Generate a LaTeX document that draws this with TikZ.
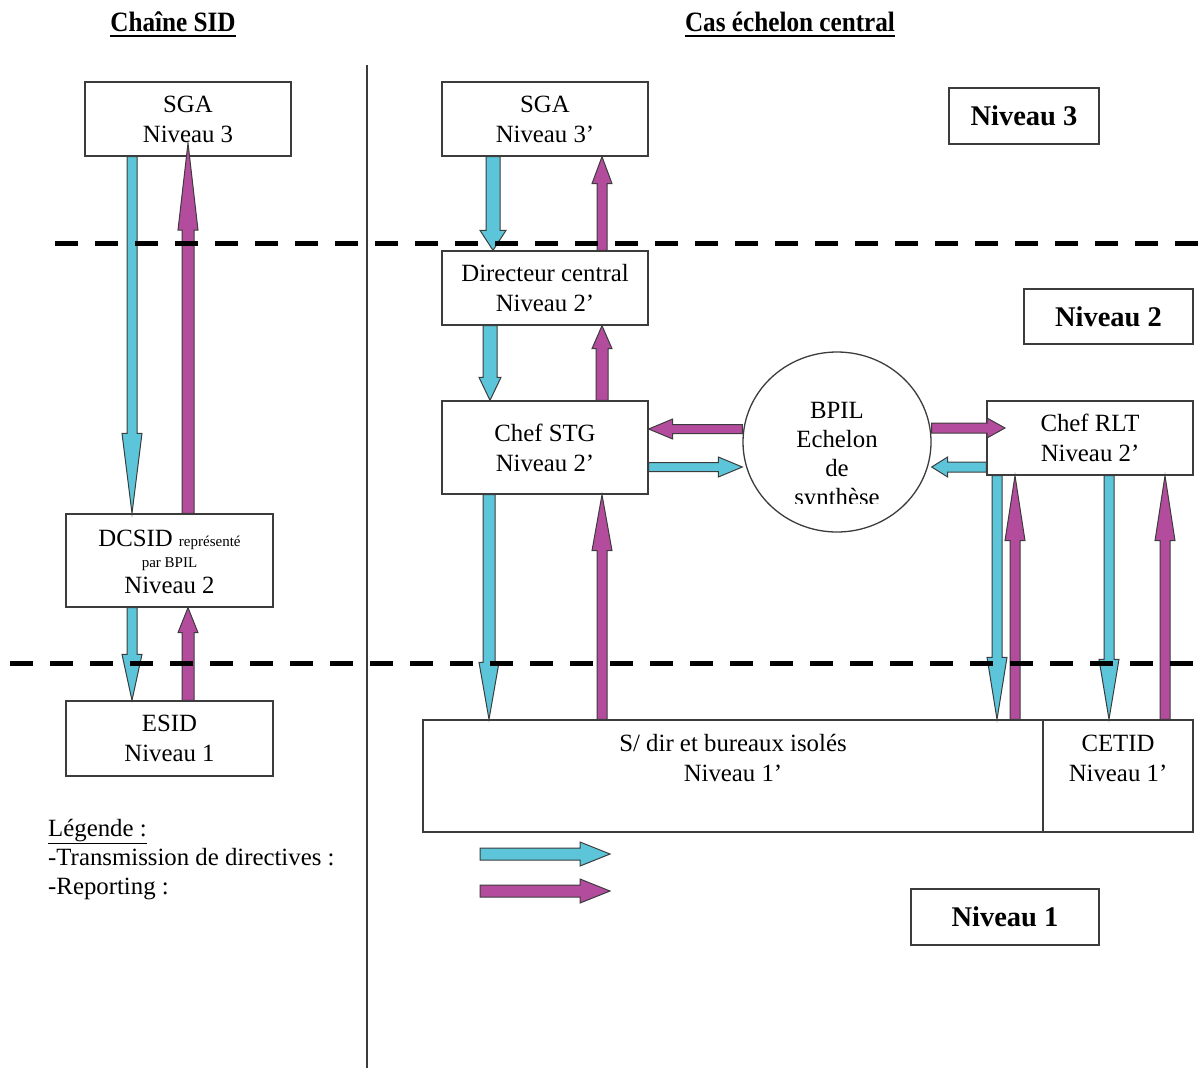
\documentclass[tikz,border=0pt]{standalone}
\usepackage{fontspec}
\setmainfont{Liberation Serif}
\usetikzlibrary{calc,shapes.geometric}
\definecolor{dirblue}{RGB}{93,197,217}
\definecolor{repmag}{RGB}{180,76,158}
\definecolor{edgegray}{RGB}{60,60,60}
% #1 colour, #2 start, #3 tip, #4 shaft half width, #5 head length, #6 head half width
\newcommand\blockarrow[6]{%
  \coordinate (baS) at #2;
  \coordinate (baE) at #3;
  \coordinate (baH) at ($(baE)!#5!(baS)$);
  \draw[arrowline, fill=#1] ($(baS)!#4!90:(baE)$) -- ($(baH)!#4!90:(baE)$)
    -- ($(baH)!#6!90:(baE)$) -- (baE) -- ($(baH)!#6!-90:(baE)$)
    -- ($(baH)!#4!-90:(baE)$) -- ($(baS)!#4!-90:(baE)$) -- cycle;
}
\begin{document}
\begin{tikzpicture}[x=1pt,y=-1pt,
  arrowline/.style={draw=edgegray, line width=1pt, line join=miter},
  box/.style={draw=edgegray, line width=1.3pt, fill=white, inner sep=0pt, align=center,
    font=\fontsize{24.8}{30}\selectfont},
  lvlbox/.style={draw=edgegray, line width=1.3pt, fill=white, inner sep=0pt,
    font=\fontsize{28.5}{32}\selectfont\bfseries},
  txt/.style={inner sep=0pt, font=\fontsize{24.8}{30}\selectfont},
  smalltxt/.style={inner sep=0pt, font=\fontsize{15}{18}\selectfont},
  title/.style={inner sep=0pt, font=\fontsize{28}{32}\selectfont\bfseries},
  titleline/.style={line width=2.5pt},
  levelsep/.style={line width=5pt, dash pattern=on 23pt off 17pt},
  divider/.style={draw=edgegray, line width=1.5pt}
]
\useasboundingbox (0,0) rectangle (1204,1068);

% titles
\node[title, anchor=base] (titleL) at (173,31) {\scalebox{0.9}[1]{Chaîne SID}};
\node[title, anchor=base] (titleR) at (790,31) {\scalebox{0.9}[1]{Cas échelon central}};
\draw[titleline] ($(titleL.base west)+(0,5)$) -- ($(titleL.base east)+(0,5)$);
\draw[titleline] ($(titleR.base west)+(0,5)$) -- ($(titleR.base east)+(0,5)$);

% divider
\coordinate (divtop) at (367,65);
\coordinate (divbot) at (367,1068);
\draw[divider] (divtop) -- (divbot);

% left chain
\node[box, minimum width=206pt, minimum height=74pt] (sgaL) at (188,119) {SGA\\Niveau 3};
\node[box, minimum width=207pt, minimum height=93pt] (dcsid) at (169.5,560.5) {};
\node[txt, anchor=base] (dcsidA) at (169.5,546) {DCSID {\fontsize{15}{18}\selectfont représenté}};
\node[smalltxt, anchor=base] (dcsidB) at (169.5,567) {par BPIL};
\node[txt, anchor=base] (dcsidC) at (169.5,593) {Niveau 2};
\node[box, minimum width=207pt, minimum height=75pt] (esid) at (169.5,738.5) {ESID\\Niveau 1};

% right side
\node[box, minimum width=206pt, minimum height=74pt] (sgaR) at (545,119) {SGA\\Niveau 3’};
\node[box, minimum width=206pt, minimum height=74pt] (dir) at (545,288) {Directeur central\\Niveau 2’};
\node[box, minimum width=206pt, minimum height=93pt] (stg) at (545,447.5) {Chef STG\\Niveau 2’};
\node[box, minimum width=206pt, minimum height=74pt] (rlt) at (1090,438) {Chef RLT\\Niveau 2’};
\node[draw=edgegray, line width=1.3pt, fill=white, ellipse, inner sep=0pt,
  minimum width=188pt, minimum height=180pt] (bpil) at (837,442) {};
\node[txt, anchor=base] (bpilA) at (837,418) {BPIL};
\node[txt, anchor=base] (bpilB) at (837,447) {Echelon};
\node[txt, anchor=base] (bpilC) at (837,476) {de};
\begin{scope}
  \clip (740,480) rectangle (935,503);
  \node[txt, anchor=base] (bpilD) at (837,505) {synthèse};
\end{scope}
\node[box, minimum width=620pt, minimum height=112pt] (sdir) at (733,776) {};
\node[txt, align=center] (sdirtxt) at (733,758) {S/ dir et bureaux isolés\\Niveau 1’};
\node[box, minimum width=150pt, minimum height=112pt] (cetid) at (1118,776) {};
\node[txt, align=center] (cetidtxt) at (1118,758) {CETID\\Niveau 1’};

% level boxes
\node[lvlbox, minimum width=150pt, minimum height=56pt] (lvl3) at (1024,116) {Niveau 3};
\node[lvlbox, minimum width=169pt, minimum height=55pt] (lvl2) at (1108.5,316.5) {Niveau 2};
\node[lvlbox, minimum width=188pt, minimum height=56pt] (lvl1) at (1005,917) {Niveau 1};

% legend
\node[txt, anchor=base west] (legA) at (48,836) {\underline{Légende :}};
\node[txt, anchor=base west] (legB) at (48,865) {-Transmission de directives :};
\node[txt, anchor=base west] (legC) at (48,894) {-Reporting :};

% left arrows
\coordinate (magtipL) at (188,143);
\blockarrow{dirblue}{(132,0 |- sgaL.south)}{(132,0 |- dcsid.north)}{5pt}{80pt}{10pt}
\blockarrow{repmag}{(188,0 |- dcsid.north)}{(magtipL)}{6pt}{87pt}{10pt}
\blockarrow{dirblue}{(132,0 |- dcsid.south)}{(132,0 |- esid.north)}{5pt}{46pt}{10pt}
\blockarrow{repmag}{(188,0 |- esid.north)}{(188,0 |- dcsid.south)}{6pt}{25pt}{10pt}

% right arrows
\blockarrow{dirblue}{(493,0 |- sgaR.south)}{(493,0 |- dir.north)}{7pt}{20pt}{13pt}
\blockarrow{repmag}{(602,0 |- dir.north)}{(602,0 |- sgaR.south)}{5pt}{27pt}{10pt}
\blockarrow{dirblue}{(490,0 |- dir.south)}{(490,0 |- stg.north)}{7pt}{23pt}{11pt}
\blockarrow{repmag}{(602,0 |- stg.north)}{(602,0 |- dir.south)}{6pt}{23pt}{10pt}
\blockarrow{dirblue}{(489,0 |- stg.south)}{(489,0 |- sdir.north)}{6pt}{57pt}{10pt}
\blockarrow{repmag}{(602,0 |- sdir.north)}{(602,0 |- stg.south)}{5pt}{56pt}{10pt}

\blockarrow{repmag}{(bpil.west |- 0,429)}{(stg.east |- 0,429)}{4.5pt}{24pt}{10pt}
\blockarrow{dirblue}{(stg.east |- 0,467)}{(bpil.west |- 0,467)}{4.5pt}{24pt}{10pt}
\coordinate (magtipR) at (1005,428);
\blockarrow{repmag}{(bpil.east |- 0,428)}{(magtipR)}{5pt}{18pt}{10pt}
\blockarrow{dirblue}{(rlt.west |- 0,467)}{(bpil.east |- 0,467)}{5pt}{16pt}{10pt}

\blockarrow{dirblue}{(997,0 |- rlt.south)}{(997,0 |- sdir.north)}{5pt}{62pt}{10pt}
\blockarrow{repmag}{(1015,0 |- sdir.north)}{(1015,0 |- rlt.south)}{5pt}{65pt}{10pt}
\blockarrow{dirblue}{(1109,0 |- rlt.south)}{(1109,0 |- cetid.north)}{5pt}{60pt}{10pt}
\blockarrow{repmag}{(1165,0 |- cetid.north)}{(1165,0 |- rlt.south)}{5pt}{65pt}{10pt}

% legend arrows
\coordinate (legBs) at (480,854);
\coordinate (legBe) at (610,854);
\coordinate (legCs) at (480,891);
\coordinate (legCe) at (610,891);
\blockarrow{dirblue}{(legBs)}{(legBe)}{6pt}{30pt}{12pt}
\blockarrow{repmag}{(legCs)}{(legCe)}{6pt}{30pt}{12pt}

% level separators
\coordinate (sepAl) at (55,243);
\coordinate (sepAr) at (1204,243);
\coordinate (sepBl) at (10,663);
\coordinate (sepBr) at (1204,663);
\draw[levelsep] (sepAl) -- (sepAr);
\draw[levelsep] (sepBl) -- (sepBr);
\end{tikzpicture}
\end{document}
